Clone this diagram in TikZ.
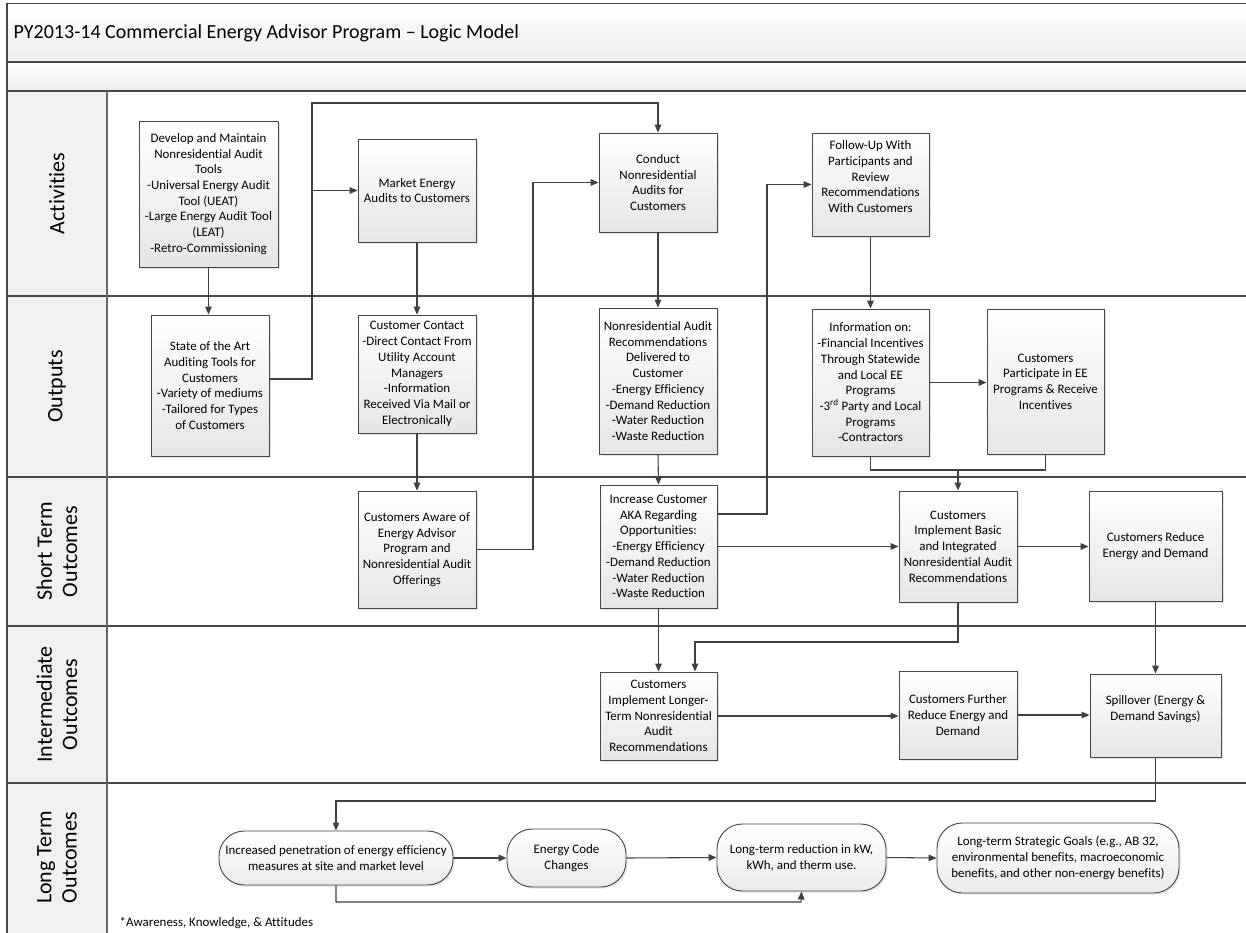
\documentclass[tikz,border=0pt]{standalone}
\usepackage{fontspec}
\setmainfont[Ligatures=NoCommon]{Carlito}
\usetikzlibrary{arrows.meta,shadows,calc}
\begin{document}
\begin{tikzpicture}[x=0.75pt,y=-0.75pt,
  sz/.style 2 args={minimum width=#1*0.75pt, minimum height=#2*0.75pt},
  box/.style={draw=black!72, line width=0.7pt, top color=white, bottom color=black!10,
    drop shadow={shadow xshift=1.2pt,shadow yshift=-1.2pt,opacity=0.2},
    align=center, inner sep=1pt, font=\fontsize{9.7}{11.8}\selectfont},
  pill/.style={box, rounded corners=19pt, top color=white, bottom color=black!8},
  conn/.style={draw=black!75, line width=0.8pt},
  arr/.style={conn, -{Triangle[length=6pt,width=5pt]}},
  lanelabel/.style={rotate=90, align=center, font=\fontsize{16.5}{19}\selectfont},
  laneline/.style={draw=black!72, line width=1.4pt},
  band/.style={top color=white, bottom color=black!7}
]
\useasboundingbox (0,0) rectangle (1246,932);
\clip (0,0) rectangle (1246,932);
\fill[white] (0,0) rectangle (1246,932);

% header bands
\shade[band] (7,3.5) rectangle (1252,62);
\shade[band] (7,62) rectangle (1252,91);
% lane label column
\fill[black!6] (7,91) rectangle (107,940);
% frame and lane lines
\draw[laneline] (1252,3.5) -- (7,3.5) -- (7,940);
\draw[laneline] (7,62) -- (1252,62);
\draw[laneline] (7,91) -- (1252,91);
\draw[laneline] (7,296) -- (1252,296);
\draw[laneline] (7,477) -- (1252,477);
\draw[laneline] (7,626) -- (1252,626);
\draw[laneline] (7,783) -- (1252,783);
\draw[draw=black!60, line width=0.8pt] (107,91) -- (107,940);

\node[anchor=west, font=\fontsize{15}{18}\selectfont] (title) at (9,33) {PY2013-14 Commercial Energy Advisor Program – Logic Model};

\node[lanelabel] (lAct) at (57,193.5) {Activities};
\node[lanelabel] (lOut) at (57,386.5) {Outputs};
\node[lanelabel] (lShort) at (57,551.5) {Short Term\\Outcomes};
\node[lanelabel] (lInt) at (57,704.5) {Intermediate\\Outcomes};
\node[lanelabel] (lLong) at (57,857.5) {Long Term\\Outcomes};

% Activities
\node[box, sz={139}{146}] (A1) at (208.5,194) {Develop and Maintain\\Nonresidential Audit\\Tools\\-Universal Energy Audit\\Tool (UEAT)\\-Large Energy Audit Tool\\(LEAT)\\-Retro-Commissioning};
\node[box, sz={118}{103}] (A2) at (417,190.5) {Market Energy\\Audits to Customers};
\node[box, sz={118}{99}] (A3) at (658,182.5) {Conduct\\Nonresidential\\Audits for\\Customers};
\node[box, sz={117}{103}] (A4) at (870.5,184.5) {Follow-Up With\\Participants and\\Review\\Recommendations\\With Customers\\\mbox{}};

% Outputs
\node[box, sz={118}{141}] (O1) at (210,385.5) {State of the Art\\Auditing Tools for\\Customers\\-Variety of mediums\\-Tailored for Types\\of Customers};
\node[box, sz={118}{118}] (O2) at (417,374) {Customer Contact\\-Direct Contact From\\Utility Account\\Managers\\-Information\\Received Via Mail or\\Electronically};
\node[box, sz={118}{146}] (O3) at (658,381) {Nonresidential Audit\\Recommendations\\Delivered to\\Customer\\-Energy Efficiency\\-Demand Reduction\\-Water Reduction\\-Waste Reduction};
\node[box, sz={117}{147}] (O4) at (870.5,382.5) {Information on:\\-Financial Incentives\\Through Statewide\\and Local EE\\Programs\\-3\textsuperscript{rd} Party and Local\\Programs\\-Contractors};
\node[box, sz={117}{145}] (O5) at (1045.5,381.5) {Customers\\Participate in EE\\Programs \& Receive\\Incentives};

% Short term
\node[box, sz={118}{117}] (S1) at (417,549.5) {Customers Aware of\\Energy Advisor\\Program and\\Nonresidential Audit\\Offerings};
\node[box, sz={117}{123}] (S2) at (658.5,546.5) {Increase Customer\\AKA Regarding\\Opportunities:\\-Energy Efficiency\\-Demand Reduction\\-Water Reduction\\-Waste Reduction};
\node[box, sz={118}{111}] (S3) at (958,546.5) {Customers\\Implement Basic\\and Integrated\\Nonresidential Audit\\Recommendations};
\node[box, sz={133}{110}] (S4) at (1155.5,546) {Customers Reduce\\Energy and Demand};

% Intermediate
\node[box, sz={117}{88}] (I1) at (658.5,716) {Customers\\Implement Longer-\\Term Nonresidential\\Audit\\Recommendations};
\node[box, sz={118}{88}] (I2) at (958,715) {Customers Further\\Reduce Energy and\\Demand};
\node[box, sz={131}{83}] (I3) at (1155.5,715.5) {Spillover (Energy \&\\Demand Savings)\\\mbox{}};

% Long term
\node[pill, sz={234}{54}] (L1) at (336,858) {Increased penetration of energy efficiency\\measures at site and market level};
\node[pill, sz={119}{58}] (L2) at (566.5,858) {Energy Code\\Changes};
\node[pill, sz={169}{67}] (L3) at (801.5,857.5) {Long-term reduction in kW,\\kWh, and therm use.};
\node[pill, sz={242}{70}] (L4) at (1058,858) {Long-term Strategic Goals (e.g., AB 32,\\environmental benefits, macroeconomic\\benefits, and other non-energy benefits)};

\node[anchor=west, font=\fontsize{9.7}{11.8}\selectfont] (note) at (115,923) {*Awareness, Knowledge, \& Attitudes};

% junction coordinates
\coordinate (j1) at (312,379);
\coordinate (j2) at (312,103);
\coordinate (j3) at (533,182.5);
\coordinate (j4) at (767,514);
\coordinate (j5) at (958,470);
\coordinate (j6) at (695,642);
\coordinate (j7) at (336,801);
\coordinate (j8) at (801,902);

% connectors
\draw[arr] (A1.south) -- (A1.south |- O1.north);
\draw[arr] (O1.east |- j1) -- (j1) -- (j2) -| (A3.north);
\draw[arr] (j1 |- A2.west) -- (A2.west);
\draw[arr] (A2.south) -- (O2.north);
\draw[arr] (O2.south) -- (S1.north);
\draw[arr] (S1.east) -| (j3) -- (A3.west);
\draw[arr] (A3.south) -- (O3.north);
\draw[arr] (O3.south) -- (S2.north);
\draw[arr] (S2.east |- j4) -- (j4) |- (A4.west);
\draw[arr] (S2.east) -- (S2.east -| S3.west);
\draw[arr] (A4.south) -- (O4.north);
\draw[arr] (O4.east) -- (O4.east -| O5.west);
\draw[arr] (O4.south) |- (j5) -- (S3.north);
\draw[conn] (O5.south) |- (j5);
\draw[arr] (S3.east) -- (S3.east -| S4.west);
\draw[arr] (S2.south) -- (S2.south |- I1.north);
\draw[arr] (S3.south) |- (j6) -- (j6 |- I1.north);
\draw[arr] (S4.south) -- (S4.south |- I3.north);
\draw[arr] (I1.east) -- (I1.east -| I2.west);
\draw[arr] (I2.east) -- (I2.east -| I3.west);
\draw[arr] (I3.south) |- (j7) -- (L1.north);
\draw[arr] (L1.east) -- (L2.west);
\draw[arr] (L2.east) -- (L3.west);
\draw[arr] (L3.east) -- (L4.west);
\draw[arr] (L1.south) |- (j8) -- (L3.south);
\end{tikzpicture}
\end{document}
